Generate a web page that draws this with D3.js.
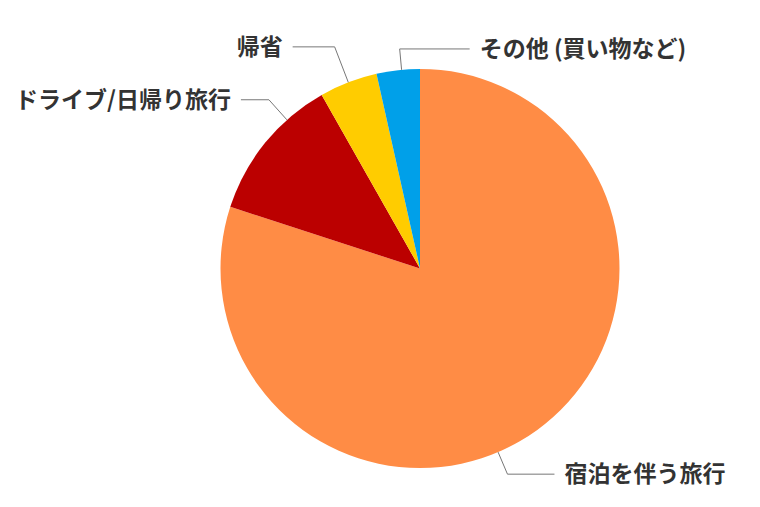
<!DOCTYPE html>
<meta charset="utf-8">
<style>
  body { margin: 0; background: #fff; }
  text { font-family: "Noto Sans CJK JP", "Noto Sans", sans-serif; font-weight: bold; }
</style>
<script src="https://d3js.org/d3.v7.min.js"></script>
<div id="chart"></div>
<script>

// slice data, clockwise from 12 o'clock
var labels = ["宿泊を伴う旅行", "ドライブ/日帰り旅行", "帰省", "その他 (買い物など)"];
var values = [80.0, 11.8, 4.7, 3.5];
var colors = ["#FF8C45", "#BB0000", "#FFCC00", "#00A0E9"];

// leader line layout: where on the slice the line starts (0-1), elbow distance,
// horizontal length and which side the label goes (1 right, -1 left)
var lineAt   = [0.545, 0.71, 0.5, 0.58];
var elbowOut = [24, 27, 38, 21];
var runOut   = [47, 28, 42, 70];
var sides    = [1, -1, -1, 1];

var width = 760, height = 507,
    cx = 420, cy = 268.5, radius = 199.5;

var svg = d3.select("#chart")
  .append("svg")
    .attr("width", width)
    .attr("height", height);

var g = svg.append("g")
    .attr("transform", "translate(" + cx + "," + cy + ")");

var pie = d3.pie().sort(null).value(function(d) { return d; });
var arcs = pie(values);

var arc = d3.arc().innerRadius(0).outerRadius(radius);

g.selectAll("path.slice")
  .data(arcs)
  .enter()
  .append("path")
    .attr("class", "slice")
    .attr("d", arc)
    .attr("fill", function(d, i) { return colors[i]; });

// label lines and text
function pt(a, r) { return [Math.sin(a) * r, -Math.cos(a) * r]; }

arcs.forEach(function(d, i) {
  var a = d.startAngle + (d.endAngle - d.startAngle) * lineAt[i];
  var p0 = pt(a, radius),
      p1 = pt(a, radius + elbowOut[i]);
  var side = sides[i];
  var p2 = [p1[0] + side * runOut[i], p1[1]];

  g.append("polyline")
    .attr("points", [p0, p1, p2].map(function(p) { return p.join(","); }).join(" "))
    .attr("fill", "none")
    .attr("stroke", "#777")
    .attr("stroke-width", 1);

  g.append("text")
    .attr("x", p2[0] + side * 10)
    .attr("y", p2[1])
    .attr("dy", "0.36em")
    .attr("text-anchor", side > 0 ? "start" : "end")
    .attr("font-size", 23)
    .attr("fill", "#333")
    .text(labels[i]);
});

</script>
